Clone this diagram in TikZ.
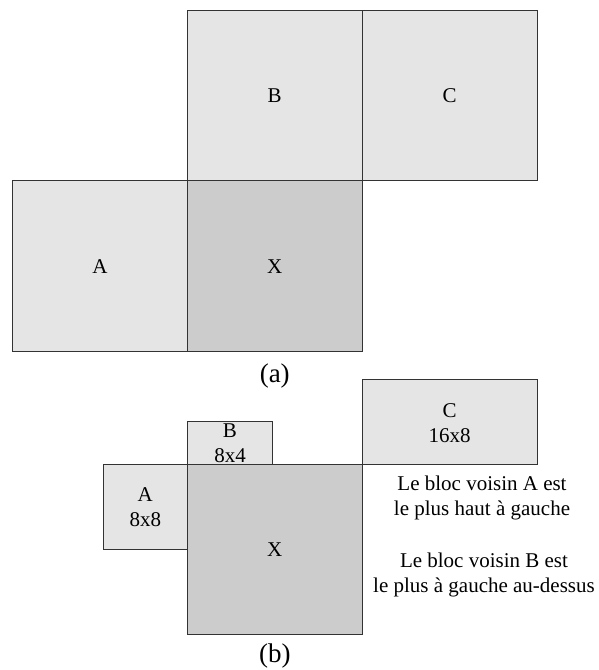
\documentclass[tikz,border=0pt]{standalone}
\usepackage{fontspec}
\setmainfont{Liberation Serif}
\begin{document}
\begin{tikzpicture}[x=1pt,y=-1pt,
  lightblk/.style={draw=black!80,line width=0.8pt,fill=black!10},
  darkblk/.style={draw=black!80,line width=0.8pt,fill=black!20},
  lbl/.style={font=\fontsize{21}{25}\selectfont,align=center,inner sep=0pt},
  captxt/.style={font=\fontsize{27}{30}\selectfont,inner sep=0pt}]
\useasboundingbox (0,0) rectangle (598,670);
% (a)
\path[lightblk] (187.5,10.5) rectangle (362,180.5);
\path[lightblk] (362,10.5) rectangle (537,180.5);
\path[lightblk] (12.5,180.5) rectangle (187.5,351);
\path[darkblk] (187.5,180.5) rectangle (362,351);
\node[lbl] (Ba) at (274.75,96) {B};
\node[lbl] (Ca) at (449.5,96) {C};
\node[lbl] (Aa) at (100,267) {A};
\node[lbl] (Xa) at (274.75,267) {X};
\node[captxt] (capa) at (274.75,376) {(a)};
% (b)
\path[lightblk] (362,379) rectangle (537,464);
\path[lightblk] (187.5,421.5) rectangle (272.5,464);
\path[lightblk] (103,464) rectangle (187.5,549);
\path[darkblk] (187.5,464) rectangle (362,634);
\node[lbl] (Cb) at (449.5,423) {C\\16x8};
\node[lbl] (Bb) at (230,443) {B\\8x4};
\node[lbl] (Ab) at (145.25,507) {A\\8x8};
\node[lbl] (Xb) at (274.75,550) {X};
\node[lbl] (t1) at (482,498) {Le bloc voisin A est\\le plus haut à gauche};
\node[lbl] (t2) at (484,575) {Le bloc voisin B est\\le plus à gauche au-dessus};
\node[captxt] (capb) at (274.75,656) {(b)};
\end{tikzpicture}
\end{document}
